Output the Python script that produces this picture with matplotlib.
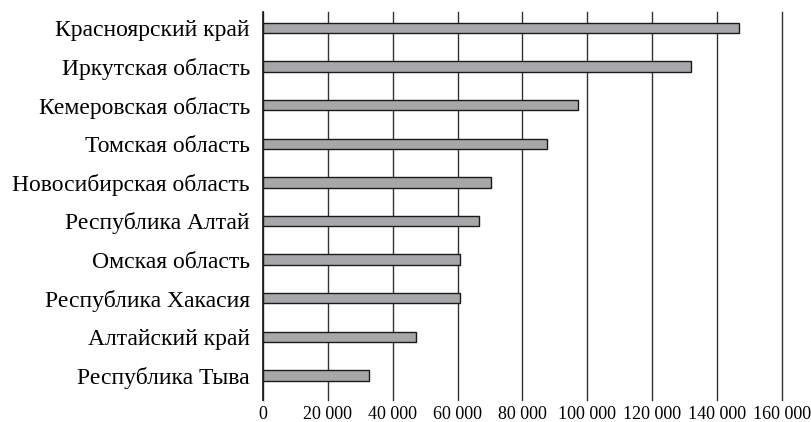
import numpy as np
import matplotlib
matplotlib.use("Agg")
import matplotlib.pyplot as plt
from matplotlib.ticker import FuncFormatter

regions = [
    "Красноярский край",
    "Иркутская область",
    "Кемеровская область",
    "Томская область",
    "Новосибирская область",
    "Республика Алтай",
    "Омская область",
    "Республика Хакасия",
    "Алтайский край",
    "Республика Тыва",
]
values = [146800, 132000, 97100, 87600, 70300, 66600, 60900, 60700, 47300, 32800]
x_ticks = np.arange(0, 160001, 20000)

plt.rcParams["font.family"] = ["Liberation Serif", "DejaVu Serif"]

fig = plt.figure(figsize=(8.11, 4.22), dpi=100)
ax = fig.add_axes([263 / 811, 22 / 422, (781.7 - 263) / 811, 388 / 422])

y = np.arange(len(regions))
ax.barh(y, values, height=0.27, color="#a7a7a9", edgecolor="#1a1a1a",
        linewidth=1.0, zorder=3)

ax.set_xlim(0, 160000)
ax.set_ylim(9.635, -0.41)
ax.set_xticks(x_ticks)
ax.xaxis.set_major_formatter(FuncFormatter(lambda v, _: f"{int(v):,}".replace(",", " ")))
ax.set_yticks(y)
ax.set_yticklabels(regions)

ax.grid(axis="x", color="#333333", linewidth=1.0, zorder=1)
for line in ax.get_xgridlines():
    line.set_clip_on(False)
ax.tick_params(axis="x", length=0, pad=4, labelsize=13)
ax.tick_params(axis="y", length=0, pad=9.5, labelsize=17)

for side in ["top", "right", "bottom"]:
    ax.spines[side].set_visible(False)
ax.spines["left"].set_color("#1a1a1a")
ax.spines["left"].set_linewidth(1.2)
ax.spines["left"].set_zorder(4)

fig.savefig("out.png", dpi=100)
plt.close(fig)
